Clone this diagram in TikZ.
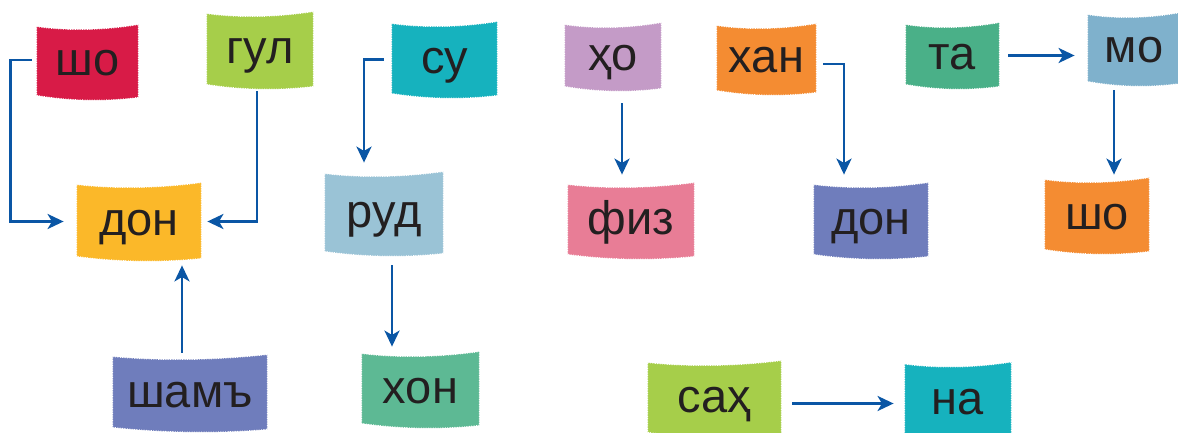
\documentclass[tikz,border=0pt]{standalone}
\usepackage{fontspec}
\setmainfont{Liberation Sans}
\usetikzlibrary{calc,arrows.meta,backgrounds}
\definecolor{arrblue}{HTML}{0A56A5}
\definecolor{txt}{HTML}{231F20}
\definecolor{cred}{HTML}{D81B47}
\definecolor{cgreen}{HTML}{A6CE4A}
\definecolor{cyellow}{HTML}{FBB829}
\definecolor{cpurple}{HTML}{6F7DBC}
\definecolor{cteal}{HTML}{16B2BE}
\definecolor{clblue}{HTML}{9AC3D6}
\definecolor{cmint}{HTML}{5DB994}
\definecolor{clilac}{HTML}{C49BC7}
\definecolor{cpink}{HTML}{E87D96}
\definecolor{corange}{HTML}{F48C32}
\definecolor{cjade}{HTML}{4AB088}
\definecolor{csky}{HTML}{7FB1CC}
\newcommand\flagbg[2]{%
  \fill[#2] ($(#1.north west)+(0,2)$)
    .. controls ($(#1.north west)!0.35!(#1.north east)+(0,7)$) and ($(#1.north west)!0.7!(#1.north east)+(0,5)$) .. (#1.north east)
    -- ($(#1.south east)+(0,-2)$)
    .. controls ($(#1.south west)!0.7!(#1.south east)+(0,2)$) and ($(#1.south west)!0.35!(#1.south east)+(0,2)$) .. ($(#1.south west)+(0,-4)$)
    -- cycle;
  \draw[white,line width=0.5pt,dash pattern=on 0.5pt off 0.7pt] ($(#1.north west)+(0,2)$)
    .. controls ($(#1.north west)!0.35!(#1.north east)+(0,7)$) and ($(#1.north west)!0.7!(#1.north east)+(0,5)$) .. (#1.north east)
    -- ($(#1.south east)+(0,-2)$)
    .. controls ($(#1.south west)!0.7!(#1.south east)+(0,2)$) and ($(#1.south west)!0.35!(#1.south east)+(0,2)$) .. ($(#1.south west)+(0,-4)$)
    -- cycle;
}
\tikzset{
  flag/.style 2 args={minimum width={#1*0.5pt}, minimum height={#2*0.5pt}, inner sep=0pt,
    text height=14pt, text depth=0pt, font=\fontsize{23.5}{26}\selectfont, text=txt},
  arr/.style={draw=arrblue, line width=1.4pt, -{Stealth[length=8pt,width=7.5pt,inset=2.2pt]}}
}
\begin{document}
\begin{tikzpicture}[x=0.5pt,y=-0.5pt]
\useasboundingbox (0,0) rectangle (1178,433);
% nodes
\node[flag={101}{74}] (sho1) at (87.5,62) {шо};
\node[flag={106}{76}] (gul) at (260,50) {гул};
\node[flag={124}{77}] (don1) at (139,221.5) {дон};
\node[flag={154}{76}] (sham) at (190,393) {шамъ};
\node[flag={105}{75}] (su) at (444.5,59.5) {су};
\node[flag={118}{83}] (rud) at (384,213.5) {руд};
\node[flag={117}{75}] (xon) at (420.5,389.5) {хон};
\node[flag={96}{67}] (ho) at (613,56.5) {ҳо};
\node[flag={126}{75}] (fiz) at (631,220.5) {физ};
\node[flag={99}{70}] (xan) at (766.5,59) {хан};
\node[flag={114}{75}] (don2) at (871,220.5) {дон};
\node[flag={93}{65}] (ta) at (952.5,55.5) {та};
\node[flag={92}{72}] (mo) at (1134,49) {мо};
\node[flag={104}{75}] (sho2) at (1097,215.5) {шо};
\node[flag={133}{75}] (sah) at (714.5,398.5) {саҳ};
\node[flag={106}{75}] (na) at (958,400) {на};
\begin{scope}[on background layer]
\flagbg{sho1}{cred}
\flagbg{gul}{cgreen}
\flagbg{don1}{cyellow}
\flagbg{sham}{cpurple}
\flagbg{su}{cteal}
\flagbg{rud}{clblue}
\flagbg{xon}{cmint}
\flagbg{ho}{clilac}
\flagbg{fiz}{cpink}
\flagbg{xan}{corange}
\flagbg{don2}{cpurple}
\flagbg{ta}{cjade}
\flagbg{mo}{csky}
\flagbg{sho2}{corange}
\flagbg{sah}{cgreen}
\flagbg{na}{cteal}
\end{scope}
% helper coordinates
\coordinate (d1s) at ($(don1.south)+(0,5)$);
\coordinate (xn) at ($(xon.north)+(0,-5)$);
\coordinate (fz) at ($(fiz.north)+(0,-8)$);
\coordinate (m1) at ($(mo.west)+(-13,0)$);
\coordinate (s2) at ($(sho2.north)+(0,-3)$);
\coordinate (n1) at ($(na.west)+(-11,0)$);
% connectors
\draw[arr] ($(sho1.west)+(-5,-2)$) -- ++(-21,0) |- ($(don1.west)+(-13,0)$);
\draw[arr] ($(gul.south)+(-3,3)$) |- ($(don1.east)+(6,0)$);
\draw[arr] ($(sham.north)+(-8,-2)$) coordinate (s1) -- (s1 |- d1s);
\draw[arr] ($(su.west)+(-8,0)$) -| ($(rud.north)+(-20,-9)$);
\draw[arr] ($(rud.south)+(8,10)$) coordinate (r1) -- (r1 |- xn);
\draw[arr] ($(ho.south)+(9,13)$) coordinate (h1) -- (h1 |- fz);
\draw[arr] ($(xan.east)+(7,5)$) -| ($(don2.north)+(-27,-8)$);
\draw[arr] ($(ta.east)+(9,0)$) coordinate (t1) -- (t1 -| m1);
\draw[arr] ($(mo.south)+(-20,5)$) coordinate (m2) -- (m2 |- s2);
\draw[arr] ($(sah.east)+(11,5)$) coordinate (sa1) -- (sa1 -| n1);
\end{tikzpicture}
\end{document}
